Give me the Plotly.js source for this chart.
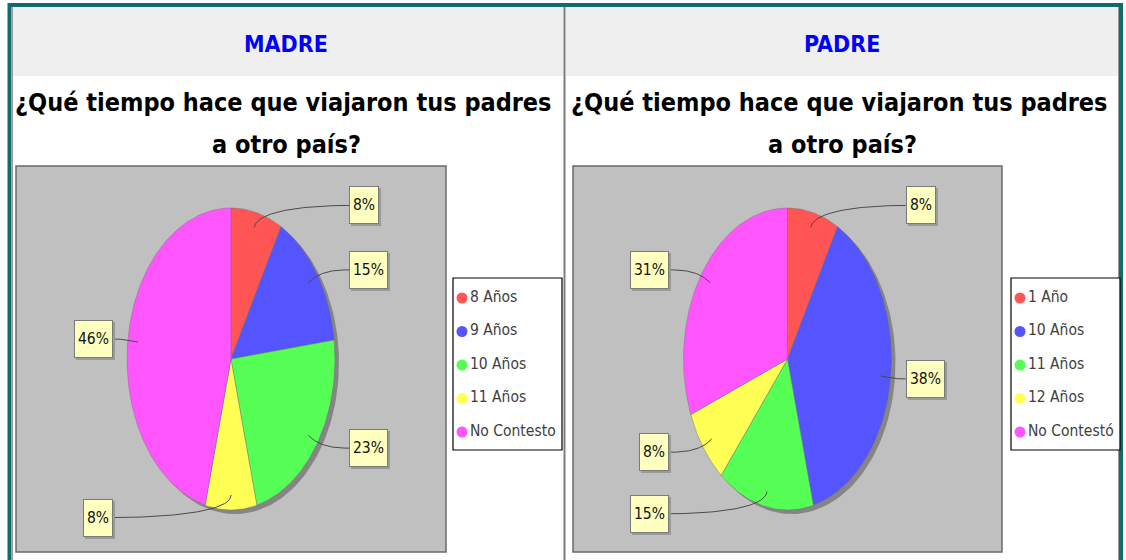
<!DOCTYPE html>
<html>
<head>
<meta charset="utf-8">
<script src="https://cdn.plot.ly/plotly-3.0.1.min.js"></script>
<style>html,body{margin:0;padding:0;background:#fff;}#chart{width:1126px;height:560px;}</style>
</head>
<body>
<div id="chart"></div>
<script>
// ---- data ----
const madreCats = ['8 Años', '9 Años', '10 Años', '11 Años', 'No Contesto'];
const madreVals = [8, 15, 23, 8, 46];
const padreCats = ['1 Año', '10 Años', '11 Años', '12 Años', 'No Contestó'];
const padreVals = [8, 38, 15, 8, 31];
const sliceColors = ['#ff5555', '#5555ff', '#55ff55', '#ffff55', '#ff55ff'];
const headers = ['MADRE', 'PADRE'];
const question = ['¿Qué tiempo hace que viajaron tus padres', 'a otro país?'];

// ---- layout config ----
const W = 1126, H = 560;
const FONT = '"DejaVu Sans Condensed", "DejaVu Sans", sans-serif';
const panels = [
  {cats: madreCats, vals: madreVals, head: headers[0], center: 286,
   area: [16, 166, 446, 552], legend: [453, 278, 562, 450]},
  {cats: padreCats, vals: padreVals, head: headers[1], center: 842,
   area: [573, 166, 1002, 552], legend: [1011, 278, 1120, 450]}
];
const RX = 104, RY = 151;

const traces = [];
const shapes = [];
const annotations = [];

// page frame
shapes.push({type: 'rect', xref: 'x', yref: 'y', x0: 12, x1: 563, y0: 7, y1: 76, fillcolor: '#efefef', line: {width: 0}, layer: 'below'});
shapes.push({type: 'rect', xref: 'x', yref: 'y', x0: 566, x1: 1119, y0: 7, y1: 76, fillcolor: '#efefef', line: {width: 0}, layer: 'below'});
shapes.push({type: 'line', xref: 'x', yref: 'y', x0: 564.5, x1: 564.5, y0: 6, y1: 560, line: {color: '#7c7c7c', width: 2}, layer: 'below'});
shapes.push({type: 'line', xref: 'x', yref: 'y', x0: 12.5, x1: 12.5, y0: 7, y1: 560, line: {color: '#9a9a9a', width: 1}, layer: 'below'});
shapes.push({type: 'line', xref: 'x', yref: 'y', x0: 1118.5, x1: 1118.5, y0: 7, y1: 560, line: {color: '#9a9a9a', width: 1}, layer: 'below'});
shapes.push({type: 'rect', xref: 'x', yref: 'y', x0: 9.5, x1: 1121, y0: 5, y1: 600, fillcolor: 'rgba(0,0,0,0)', line: {color: '#126b6b', width: 4}, layer: 'below'});

function ellipsePt(cx, cy, rx, ry, th) {
  return [cx + rx * Math.sin(th), cy - ry * Math.cos(th)];
}

panels.forEach((p, pi) => {
  const [ax0, ay0, ax1, ay1] = p.area;
  const cx = (ax0 + ax1) / 2, cy = (ay0 + ay1) / 2;

  // plot area
  shapes.push({type: 'rect', xref: 'x', yref: 'y', x0: ax0, x1: ax1, y0: ay0, y1: ay1,
    fillcolor: '#c0c0c0', line: {color: '#6a6a6a', width: 1.5}, layer: 'below'});

  // header + title
  annotations.push({xref: 'x', yref: 'y', x: p.center, y: 44, text: '<b>' + p.head + '</b>', showarrow: false,
    font: {family: FONT, size: 23, color: '#0000ff'}, xanchor: 'center', yanchor: 'middle'});
  annotations.push({xref: 'x', yref: 'y', x: p.center - 3, y: 102, text: '<b>' + question[0] + '</b>', showarrow: false,
    font: {family: FONT, size: 25, color: '#000'}, xanchor: 'center', yanchor: 'middle'});
  annotations.push({xref: 'x', yref: 'y', x: p.center, y: 144, text: '<b>' + question[1] + '</b>', showarrow: false,
    font: {family: FONT, size: 25, color: '#000'}, xanchor: 'center', yanchor: 'middle'});

  // shadow
  const sx = [], sy = [];
  for (let d = 0; d <= 360; d += 2) {
    const pt = ellipsePt(cx + 4, cy + 4, RX, RY, d * Math.PI / 180);
    sx.push(pt[0]); sy.push(pt[1]);
  }
  traces.push({type: 'scatter', mode: 'lines', x: sx, y: sy, fill: 'toself', fillcolor: '#858585',
    line: {width: 0, color: '#858585'}, hoverinfo: 'skip', showlegend: false});

  // slices
  const total = p.vals.reduce((a, b) => a + b, 0);
  let cum = 0;
  p.vals.forEach((v, i) => {
    const a0 = cum / total * 2 * Math.PI;
    const a1 = (cum + v) / total * 2 * Math.PI;
    const mid = (cum + v / 2) / total;
    cum += v;
    const xs = [cx], ys = [cy];
    const n = Math.max(2, Math.ceil((a1 - a0) * 180 / Math.PI));
    for (let k = 0; k <= n; k++) {
      const pt = ellipsePt(cx, cy, RX, RY, a0 + (a1 - a0) * k / n);
      xs.push(pt[0]); ys.push(pt[1]);
    }
    xs.push(cx); ys.push(cy);
    traces.push({type: 'scatter', mode: 'lines', x: xs, y: ys, fill: 'toself', fillcolor: sliceColors[i],
      line: {color: 'rgba(110,110,110,0.7)', width: 0.6}, name: p.cats[i],
      text: p.cats[i] + ': ' + v + '%', hoverinfo: 'text', showlegend: false});

    // leader line (cubic curve)
    const th = mid * 2 * Math.PI;
    const right = mid < 0.5;
    const link = ellipsePt(cx, cy, RX * 0.9, RY * 0.9, th);
    const elbow = ellipsePt(cx, cy, RX * 1.04, RY * 1.05, th);
    const anchor = [right ? cx + RX * 1.04 : cx - RX * 1.04, elbow[1]];
    const target = [right ? anchor[0] + 10 : anchor[0] - 10, elbow[1]];
    const lx = [], ly = [];
    for (let k = 0; k <= 40; k++) {
      const t = k / 40, u = 1 - t;
      lx.push(u*u*u*link[0] + 3*u*u*t*elbow[0] + 3*u*t*t*anchor[0] + t*t*t*target[0]);
      ly.push(u*u*u*link[1] + 3*u*u*t*elbow[1] + 3*u*t*t*anchor[1] + t*t*t*target[1]);
    }
    traces.push({type: 'scatter', mode: 'lines', x: lx, y: ly, line: {color: '#4a4a4a', width: 1},
      hoverinfo: 'skip', showlegend: false});

    // label box (shadow + box)
    const lab = v + '%';
    annotations.push({xref: 'x', yref: 'y', x: target[0], y: target[1], text: lab, showarrow: false,
      xanchor: right ? 'left' : 'right', yanchor: 'middle', xshift: 2, yshift: -2, height: 30,
      bgcolor: '#9a9a9a', bordercolor: '#9a9a9a', borderwidth: 1, borderpad: 3,
      font: {family: FONT, size: 15.5, color: 'rgba(0,0,0,0)'}});
    annotations.push({xref: 'x', yref: 'y', x: target[0], y: target[1], text: lab, showarrow: false,
      xanchor: right ? 'left' : 'right', yanchor: 'middle', height: 30,
      bgcolor: '#ffffc0', bordercolor: '#7a7a7a', borderwidth: 1, borderpad: 3,
      font: {family: FONT, size: 15.5, color: '#111'}});
  });

  // legend
  const [lx0, ly0, lx1, ly1] = p.legend;
  shapes.push({type: 'rect', xref: 'x', yref: 'y', x0: lx0, x1: lx1, y0: ly0, y1: ly1,
    fillcolor: '#ffffff', line: {color: '#000', width: 1.2}, layer: 'below'});
  traces.push({type: 'scatter', mode: 'markers+text',
    x: p.cats.map(() => lx0 + 9),
    y: p.cats.map((c, i) => ly0 + 20 + i * 33.5),
    text: p.cats, textposition: 'middle right',
    textfont: {family: FONT, size: 15.5, color: '#404040'},
    marker: {size: 11, color: sliceColors, line: {width: 0}},
    hoverinfo: 'text', showlegend: false, cliponaxis: false});
});

const layout = {
  width: W, height: H,
  margin: {l: 0, r: 0, t: 0, b: 0},
  paper_bgcolor: '#ffffff', plot_bgcolor: 'rgba(0,0,0,0)',
  showlegend: false,
  xaxis: {range: [0, W], domain: [0, 1], visible: false, fixedrange: true},
  yaxis: {range: [H, 0], domain: [0, 1], visible: false, fixedrange: true},
  shapes: shapes,
  annotations: annotations
};

Plotly.newPlot('chart', traces, layout, {displayModeBar: false, staticPlot: true});
</script>
</body>
</html>
